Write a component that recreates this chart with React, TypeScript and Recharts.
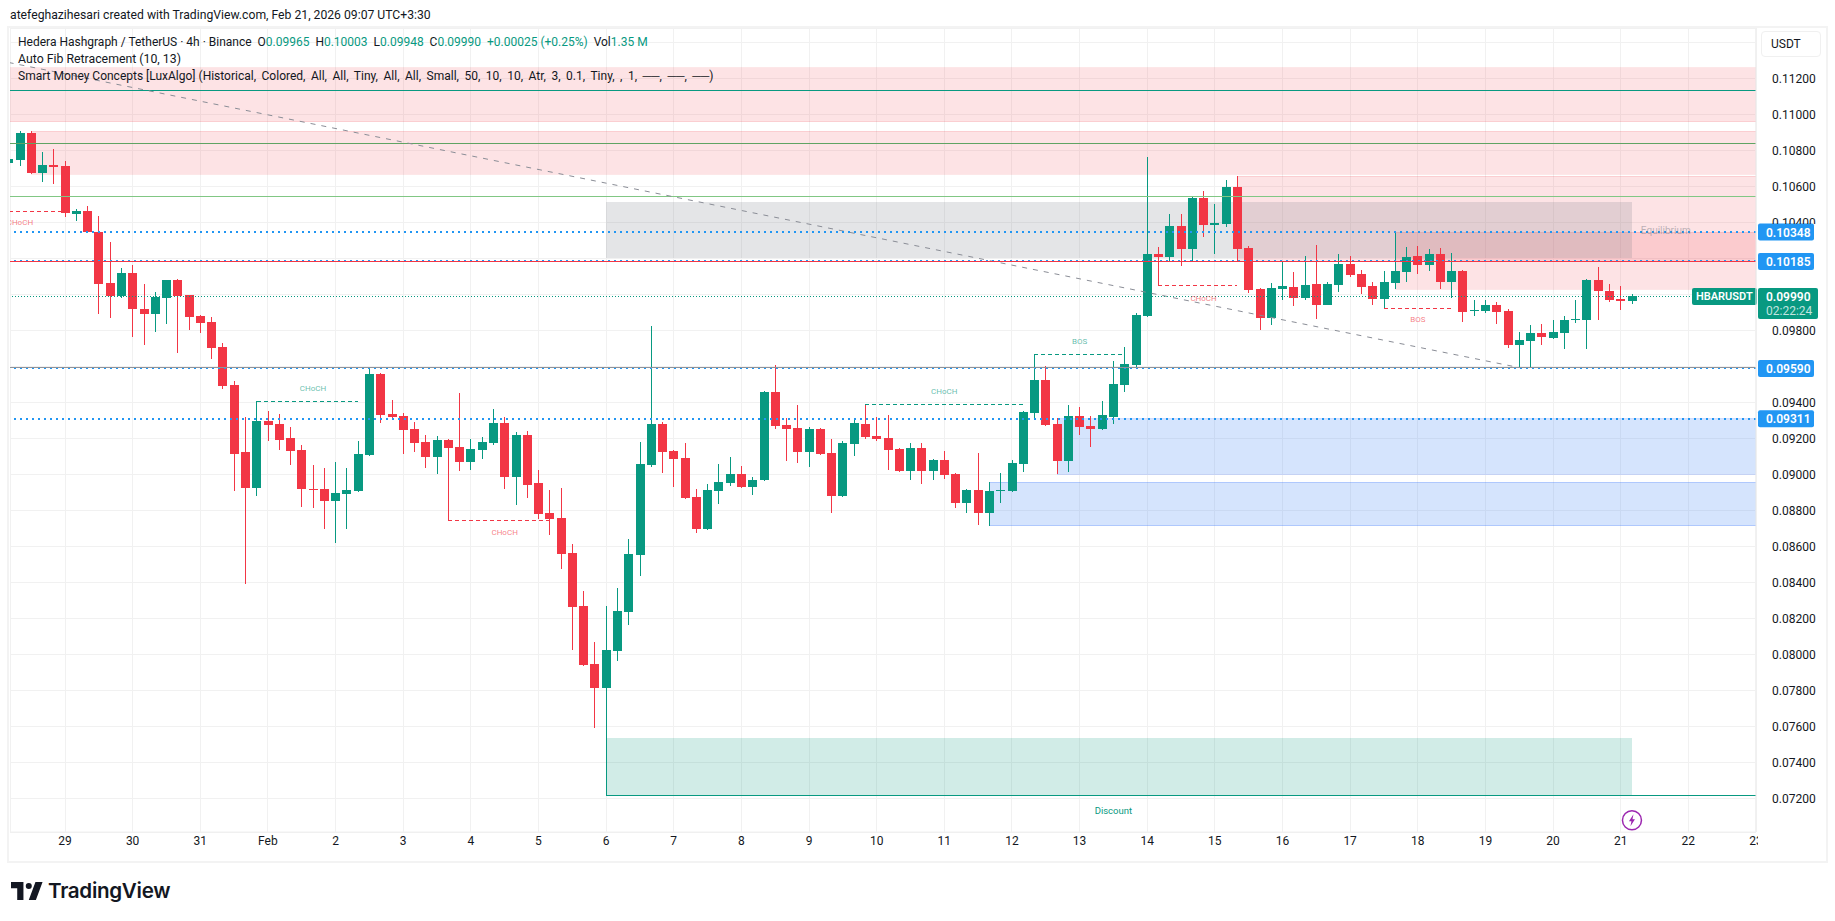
import React from "react";
import {
  ComposedChart,
  Bar,
  XAxis,
  YAxis,
  CartesianGrid,
  ReferenceArea,
  ReferenceDot,
  ReferenceLine,
} from "recharts";

const UP = "#089981";
const DOWN = "#f23645";
const BLUE = "#2196f3";
const FONT = "Roboto, Arial, sans-serif";

// 4h candles, left to right, the first one is cut by the left edge of the pane
const opens = [
  0.10731, 0.10748, 0.10898, 0.10676, 0.1072, 0.10715, 0.1045, 0.10465, 0.10348, 0.10065, 0.09993, 0.1012, 0.0992, 0.09893, 0.09981,
  0.10081, 0.09998, 0.09881, 0.09848, 0.09709, 0.09498, 0.09126, 0.08926, 0.09298, 0.09281, 0.09204, 0.09137, 0.0892, 0.0892, 0.08854,
  0.08893, 0.08909, 0.09109, 0.09559, 0.09337, 0.09326, 0.09254, 0.09181, 0.09098, 0.09193, 0.09154, 0.0907, 0.09137, 0.09176, 0.09287,
  0.08987, 0.0922, 0.08954, 0.08787, 0.08759, 0.08565, 0.0827, 0.07948, 0.07815, 0.0802, 0.08237, 0.08554, 0.09054, 0.09281, 0.09131,
  0.09093, 0.08876, 0.08698, 0.08909, 0.08954, 0.09004, 0.08931, 0.0897, 0.09459, 0.09276, 0.09259, 0.09126, 0.09254, 0.0912, 0.08881,
  0.0917, 0.09281, 0.09215, 0.09204, 0.09143, 0.0902, 0.09148, 0.0902, 0.09081, 0.09004, 0.08843, 0.08915, 0.08787, 0.08909, 0.08909,
  0.09059, 0.09343, 0.09526, 0.09281, 0.09076, 0.09326, 0.0927, 0.09254, 0.0932, 0.09498, 0.09609, 0.09881, 0.10226, 0.10209, 0.10381,
  0.10254, 0.10537, 0.10387, 0.10393, 0.10598, 0.10259, 0.10031, 0.0987, 0.10031, 0.10043, 0.09981, 0.10059, 0.09943, 0.10054, 0.1017,
  0.10115, 0.10048, 0.09976, 0.10065, 0.10126, 0.10215, 0.10165, 0.10226, 0.1007, 0.10131, 0.09909, 0.09909, 0.09943, 0.09909, 0.0972,
  0.09743, 0.09787, 0.09759, 0.09787, 0.09859, 0.09859, 0.10081, 0.1002, 0.09976, 0.09965,
];
const highs = [
  0.10759, 0.10909, 0.10909, 0.10793, 0.10809, 0.10743, 0.10476, 0.10493, 0.10437, 0.10293, 0.10148, 0.10165, 0.10059, 0.10015, 0.10081,
  0.10087, 0.1, 0.09885, 0.09876, 0.09731, 0.0952, 0.0932, 0.09408, 0.09354, 0.09337, 0.09265, 0.09165, 0.09054, 0.09037, 0.0907,
  0.09037, 0.09187, 0.09593, 0.09565, 0.09415, 0.09343, 0.09293, 0.0922, 0.09215, 0.09198, 0.09454, 0.09198, 0.09209, 0.09365, 0.0932,
  0.09237, 0.09243, 0.09026, 0.08915, 0.08926, 0.08615, 0.08354, 0.0807, 0.0827, 0.0837, 0.08643, 0.09181, 0.09826, 0.09293, 0.09137,
  0.09176, 0.0892, 0.08948, 0.09059, 0.09098, 0.09048, 0.08987, 0.09465, 0.09609, 0.09315, 0.09387, 0.09265, 0.09259, 0.09198, 0.09187,
  0.09315, 0.09393, 0.0932, 0.09331, 0.09148, 0.09176, 0.09176, 0.09087, 0.09131, 0.09009, 0.0892, 0.0912, 0.08959, 0.09009, 0.09081,
  0.09354, 0.09669, 0.09604, 0.09315, 0.09387, 0.09376, 0.09326, 0.09409, 0.09631, 0.09709, 0.09898, 0.10765, 0.10265, 0.10448, 0.10448,
  0.10543, 0.10576, 0.10504, 0.10637, 0.10659, 0.1027, 0.10037, 0.10065, 0.10187, 0.10126, 0.10215, 0.10276, 0.1007, 0.10226, 0.10215,
  0.10137, 0.1007, 0.10131, 0.10354, 0.10265, 0.1027, 0.10254, 0.10259, 0.10231, 0.10137, 0.0997, 0.0997, 0.09959, 0.0992, 0.09793,
  0.09831, 0.09837, 0.09859, 0.09881, 0.0997, 0.10085, 0.10154, 0.10059, 0.10048, 0.10003,
];
const lows = [
  0.10726, 0.10716, 0.1067, 0.10626, 0.10615, 0.10431, 0.10409, 0.10345, 0.09893, 0.0987, 0.09981, 0.09766, 0.0972, 0.09793, 0.09837,
  0.09678, 0.09804, 0.09787, 0.09643, 0.09476, 0.08909, 0.08393, 0.08881, 0.09187, 0.09137, 0.09054, 0.0882, 0.08815, 0.08698, 0.0862,
  0.08698, 0.08905, 0.09105, 0.09287, 0.09304, 0.09115, 0.09126, 0.09037, 0.09004, 0.08746, 0.0902, 0.09026, 0.09087, 0.09165, 0.0892,
  0.08831, 0.0887, 0.08754, 0.08665, 0.08476, 0.08026, 0.07937, 0.07593, 0.07219, 0.07965, 0.08165, 0.08437, 0.09043, 0.09009, 0.08931,
  0.08865, 0.08676, 0.08693, 0.08837, 0.08937, 0.08928, 0.08887, 0.08965, 0.09254, 0.09076, 0.09065, 0.09043, 0.09112, 0.08787, 0.08878,
  0.09104, 0.09198, 0.09187, 0.09026, 0.09015, 0.0897, 0.08948, 0.0897, 0.08976, 0.08815, 0.08787, 0.0872, 0.08716, 0.08843, 0.08905,
  0.09015, 0.09315, 0.0927, 0.09004, 0.09015, 0.0922, 0.09154, 0.09248, 0.09281, 0.09459, 0.09598, 0.09876, 0.10052, 0.10187, 0.10159,
  0.10187, 0.1032, 0.10226, 0.10376, 0.10187, 0.10009, 0.09804, 0.09831, 0.0997, 0.09937, 0.0997, 0.09865, 0.0994, 0.10015, 0.10098,
  0.10004, 0.09943, 0.09924, 0.10031, 0.1007, 0.10115, 0.10131, 0.10031, 0.09981, 0.09848, 0.09881, 0.09898, 0.09837, 0.09704, 0.09598,
  0.09598, 0.0972, 0.09754, 0.09698, 0.09843, 0.09698, 0.09859, 0.09959, 0.09915, 0.09948,
];
const closes = [
  0.10754, 0.10898, 0.10676, 0.1072, 0.10711, 0.10455, 0.10465, 0.10348, 0.10061, 0.09993, 0.1012, 0.0992, 0.09893, 0.09987, 0.10081,
  0.09993, 0.09876, 0.09843, 0.09704, 0.09493, 0.09115, 0.08926, 0.09298, 0.09276, 0.09193, 0.09131, 0.0892, 0.08915, 0.08854, 0.08898,
  0.08915, 0.09115, 0.09559, 0.09331, 0.0932, 0.09248, 0.09176, 0.09098, 0.09193, 0.09148, 0.0907, 0.09143, 0.09181, 0.09287, 0.08987,
  0.0922, 0.08943, 0.08781, 0.08754, 0.08559, 0.08265, 0.07943, 0.07815, 0.08026, 0.08243, 0.08559, 0.09059, 0.09281, 0.09126, 0.09087,
  0.0887, 0.08698, 0.08915, 0.08959, 0.09004, 0.08931, 0.0897, 0.09459, 0.0927, 0.09254, 0.09126, 0.09254, 0.09115, 0.08881, 0.09176,
  0.09287, 0.09209, 0.09198, 0.09137, 0.0902, 0.09148, 0.0902, 0.09081, 0.08998, 0.08843, 0.08915, 0.08787, 0.08909, 0.08915, 0.09065,
  0.09348, 0.09526, 0.09276, 0.09076, 0.09326, 0.09265, 0.09254, 0.09331, 0.09504, 0.09615, 0.09887, 0.10226, 0.10209, 0.10381, 0.10254,
  0.10537, 0.10387, 0.10398, 0.10598, 0.10254, 0.10026, 0.0987, 0.10037, 0.10048, 0.09981, 0.10054, 0.09943, 0.10059, 0.1017, 0.10109,
  0.10043, 0.09976, 0.1007, 0.10131, 0.10209, 0.10165, 0.10226, 0.1007, 0.10131, 0.09904, 0.09915, 0.09943, 0.09904, 0.0972, 0.09748,
  0.09787, 0.09765, 0.09793, 0.09859, 0.09865, 0.10081, 0.1002, 0.0997, 0.09965, 0.0999,
];

const FIRST_SLOT = -5;
const EMPTY_SLOTS = 11; // room to the right of the last candle

const dayTicks = [0, 6, 12, 18, 24, 30, 36, 42, 48, 54, 60, 66, 72, 78, 84, 90, 96, 102, 108, 114, 120, 126, 132, 138, 144, 150];
const dayLabels = ["29", "30", "31", "Feb", "2", "3", "4", "5", "6", "7", "8", "9", "10", "11", "12", "13", "14", "15", "16", "17", "18", "19", "20", "21", "22", "23"];
const priceTicks = [0.072, 0.074, 0.076, 0.078, 0.08, 0.082, 0.084, 0.086, 0.088, 0.09, 0.092, 0.094, 0.096, 0.098, 0.1, 0.102, 0.104, 0.106, 0.108, 0.11, 0.112, 0.114];
// these sit behind the price tags and the USDT button, only their grid line shows
const hiddenPriceLabels = [0.096, 0.1, 0.102, 0.114];

// pink supply zones: top, bottom, start slot (null = from the pane edge)
const supplyTops = [0.11262, 0.10909, 0.10659, 0.10348];
const supplyBottoms = [0.10962, 0.10668, 0.1019, 0.10029];
const supplyStarts = [null, -3, 104, 118];
// blue demand zones
const demandTops = [0.09311, 0.08958];
const demandBottoms = [0.09002, 0.08716];
const demandStarts = [88, 82];

// structure breaks
const breakStarts = [-5, 17, 34, 71, 86, 97, 117];
const breakEnds = [0, 26, 43, 85, 94, 104, 123];
const breakPrices = [0.10463, 0.09408, 0.08747, 0.09391, 0.09669, 0.10052, 0.09924];
const breakUp = [false, true, false, true, true, false, false];
const breakNames = ["CHoCH", "CHoCH", "CHoCH", "CHoCH", "BOS", "CHoCH", "BOS"];
const breakLabelSlots = [-4, 22, 39, 78, 90, 101, 120];
const breakLabelPrices = [0.10402, 0.0948, 0.0868, 0.09463, 0.09741, 0.09983, 0.09863];

const fibLines = [0.11135, 0.10841, 0.10547];
const fibColors = ["#089981", "#5fa463", "#81c784"];
const levelPrices = [0.10348, 0.10185, 0.0959, 0.09311];
const lastPrice = 0.0999;

const rows = [...opens, ...Array(EMPTY_SLOTS).fill(null)].map((open, i) => ({
  slot: i + FIRST_SLOT,
  range: open === null ? null : [lows[i], highs[i]],
  open,
  high: highs[i],
  low: lows[i],
  close: closes[i],
}));

const CHART_W = 1835;
const CHART_H = 921;
const PANE_LEFT = 10;
const PANE_RIGHT = 1756;
const PANE_TOP = 28;
const PANE_BOTTOM = 832;
const SLOT_W = 11.27;
const PANE_CLIP = "url(#pane)";

const Candle = (props: any) => {
  const { x, y, width, height, payload } = props;
  if (payload.open === null || !height) return null;
  const perPrice = height / (payload.high - payload.low);
  const color = payload.close >= payload.open ? UP : DOWN;
  const top = y + (payload.high - Math.max(payload.open, payload.close)) * perPrice;
  const bodyH = Math.max(1, Math.abs(payload.open - payload.close) * perPrice);
  const mid = Math.floor(x + width / 2);
  return (
    <g clipPath={PANE_CLIP} shapeRendering="crispEdges">
      <rect x={mid} y={y} width={1} height={height} fill={color} />
      <rect x={mid - 4} y={top} width={9} height={bodyH} fill={color} />
    </g>
  );
};

// reference areas snap to the band edges, the zones here start on the candle centre
const Zone = (props: any) => {
  const { x, y, width, height, fill, stroke, trimLeft, trimRight } = props;
  const left = x + (trimLeft ? SLOT_W / 2 : 0);
  const w = width - (trimLeft ? SLOT_W / 2 : 0) - (trimRight ? SLOT_W / 2 : 0);
  return (
    <g clipPath={PANE_CLIP} shapeRendering="crispEdges">
      <rect x={left} y={y} width={w} height={height} fill={fill} />
      {stroke && <rect x={left} y={y} width={w} height={height} fill="none" stroke={stroke} strokeWidth={1} />}
    </g>
  );
};

const DayTick = (props: any) => {
  const { x, y, payload } = props;
  const label = dayLabels[dayTicks.indexOf(payload.value)];
  return (
    <text x={x} y={y + 5} textAnchor="middle" fontSize={12} fontFamily={FONT} fill="#131722" clipPath="url(#dayClip)">
      {label}
    </text>
  );
};

const PriceTick = (props: any) => {
  const { x, y, payload } = props;
  if (hiddenPriceLabels.includes(payload.value)) return null;
  // 0.10400 is half covered by the tag just below it
  const covered = payload.value === 0.104;
  return (
    <text
      x={x}
      y={y + 4}
      fontSize={12}
      fontFamily={FONT}
      fill="#131722"
      clipPath={covered ? "url(#tagClip)" : undefined}
    >
      {payload.value.toFixed(5)}
    </text>
  );
};

const AxisTag = ({ viewBox, price, fill, w = 56, h = 17 }: any) => {
  const cy = viewBox.y;
  return (
    <g>
      <rect x={PANE_RIGHT + 2} y={cy - h / 2} width={w} height={h} fill={fill} rx={2} />
      <text x={PANE_RIGHT + 10} y={cy + 4.5} fontSize={12} fontWeight={600} fontFamily={FONT} fill="#fff">
        {price.toFixed(5)}
      </text>
    </g>
  );
};

const LastTag = ({ viewBox }: any) => {
  const cy = viewBox.y;
  return (
    <g>
      <rect x={PANE_RIGHT - 64} y={cy - 8.5} width={65} height={17} fill={UP} rx={2} />
      <text x={PANE_RIGHT - 60} y={cy + 4} fontSize={11} fontWeight={600} fontFamily={FONT} fill="#fff">
        HBARUSDT
      </text>
      <rect x={PANE_RIGHT + 2} y={cy - 8.5} width={60} height={31} fill={UP} rx={2} />
      <text x={PANE_RIGHT + 10} y={cy + 4.5} fontSize={12} fontWeight={600} fontFamily={FONT} fill="#fff">
        {lastPrice.toFixed(5)}
      </text>
      <text x={PANE_RIGHT + 10} y={cy + 19} fontSize={12} fontFamily={FONT} fill="#fff" fillOpacity={0.75}>
        02:22:24
      </text>
    </g>
  );
};

const Note = ({ cx, cy, text, color, size = 8, opacity = 1 }: any) => (
  <text x={cx} y={cy + size * 0.35} textAnchor="middle" fontSize={size} fontFamily={FONT} fill={color} fillOpacity={opacity} clipPath={PANE_CLIP}>
    {text}
  </text>
);

const Bolt = ({ cx, cy }: any) => (
  <g>
    <circle cx={cx} cy={cy} r={9.5} fill="#fff" stroke="#9c27b0" strokeWidth={1.5} />
    <path d={`M${cx + 1.5} ${cy - 6}L${cx - 3} ${cy + 1}H${cx - 0.5}L${cx - 1.5} ${cy + 6}L${cx + 3} ${cy - 1}H${cx + 0.5}Z`} fill="#9c27b0" />
  </g>
);

const label = (left: number, top: number, extra: any = {}): React.CSSProperties => ({
  position: "absolute",
  left,
  top,
  fontFamily: FONT,
  fontSize: 12,
  lineHeight: "16px",
  color: "#131722",
  whiteSpace: "nowrap",
  ...extra,
});

const Val = ({ children }: any) => <span style={{ color: UP }}>{children}</span>;

export default function App() {
  return (
    <div style={{ position: "absolute", left: 0, top: 0, width: CHART_W, height: CHART_H, background: "#fff", overflow: "hidden" }}>
      <svg width={0} height={0} style={{ position: "absolute" }}>
        <defs>
          <clipPath id="pane">
            <rect x={PANE_LEFT} y={PANE_TOP} width={PANE_RIGHT - PANE_LEFT} height={PANE_BOTTOM - PANE_TOP} />
          </clipPath>
          <clipPath id="dayClip">
            <rect x={0} y={PANE_BOTTOM} width={PANE_RIGHT + 2} height={30} />
          </clipPath>
          <clipPath id="tagClip">
            <rect x={PANE_RIGHT} y={200} width={70} height={24} />
          </clipPath>
        </defs>
      </svg>
      <div style={{ position: "absolute", left: 7, top: 26, width: 1817, height: 833, border: "2px solid #f3f3f3" }} />
      <div style={{ position: "absolute", left: 0, top: 0 }}>
        <ComposedChart
          width={CHART_W}
          height={CHART_H}
          data={rows}
          margin={{ top: PANE_TOP, right: 0, left: PANE_LEFT, bottom: 61 }}
          barCategoryGap="20%"
        >
          <CartesianGrid stroke="#f1f1f1" shapeRendering="crispEdges" />
          <XAxis
            dataKey="slot"
            type="category"
            ticks={dayTicks}
            tick={<DayTick />}
            interval={0}
            height={28}
            tickLine={false}
            axisLine={{ stroke: "#f0f0f0" }}
            padding={{ left: -7, right: -5.6 }}
            allowDataOverflow
          />
          <YAxis
            orientation="right"
            width={79}
            domain={[0.07015, 0.114815]}
            ticks={priceTicks}
            interval={0}
            allowDataOverflow
            tick={<PriceTick />}
            tickLine={false}
            tickMargin={10}
            axisLine={{ stroke: "#f0f0f0" }}
          />

          {supplyTops.map((top, i) => (
            <ReferenceArea
              key={`supply-${i}`}
              x1={supplyStarts[i] ?? undefined}
              y1={supplyBottoms[i]}
              y2={top}
              ifOverflow="visible"
              shape={(p: any) => <Zone {...p} fill="rgba(242,54,69,0.14)" stroke="rgba(242,54,69,0.12)" trimLeft={supplyStarts[i] !== null} />}
            />
          ))}
          <ReferenceArea
            x1={48}
            x2={139}
            y1={0.10202}
            y2={0.10515}
            ifOverflow="visible"
            shape={(p: any) => <Zone {...p} fill="rgba(120,123,134,0.2)" trimLeft trimRight />}
          />
          <ReferenceArea
            x1={48}
            x2={139}
            y1={0.07219}
            y2={0.07537}
            ifOverflow="visible"
            shape={(p: any) => <Zone {...p} fill="rgba(8,153,129,0.19)" trimLeft trimRight />}
          />
          {demandTops.map((top, i) => (
            <ReferenceArea
              key={`demand-${i}`}
              x1={demandStarts[i]}
              y1={demandBottoms[i]}
              y2={top}
              ifOverflow="visible"
              shape={(p: any) => <Zone {...p} fill="rgba(66,133,244,0.22)" stroke="rgba(41,98,255,0.22)" trimLeft />}
            />
          ))}

          {fibLines.map((price, i) => (
            <ReferenceLine key={`fib-${i}`} y={price} stroke={fibColors[i]} strokeWidth={1} clipPath={PANE_CLIP} shapeRendering="crispEdges" />
          ))}
          <ReferenceLine
            segment={[{ x: 48, y: 0.07219 }, { x: 150, y: 0.07219 }]}
            stroke={UP}
            strokeWidth={1}
            shapeRendering="crispEdges"
            ifOverflow="visible"
          />
          <ReferenceLine
            segment={[{ x: -5, y: 0.1129 }, { x: 129, y: 0.09595 }]}
            stroke="#8a8d96"
            strokeWidth={1}
            strokeDasharray="5 6"
            clipPath={PANE_CLIP}
            ifOverflow="visible"
          />
          {breakStarts.map((start, i) => (
            <ReferenceLine
              key={`break-${i}`}
              segment={[{ x: start, y: breakPrices[i] }, { x: breakEnds[i], y: breakPrices[i] }]}
              stroke={breakUp[i] ? UP : DOWN}
              strokeWidth={1}
              strokeDasharray="4 3"
              clipPath={PANE_CLIP}
              shapeRendering="crispEdges"
              ifOverflow="visible"
            />
          ))}
          {breakNames.map((name, i) => (
            <ReferenceDot
              key={`break-label-${i}`}
              x={breakLabelSlots[i]}
              y={breakLabelPrices[i]}
              r={0}
              shape={(p: any) => <Note {...p} text={name} color={breakUp[i] ? UP : DOWN} opacity={0.65} />}
            />
          ))}
          <ReferenceDot x={142} y={0.10355} r={0} shape={(p: any) => <Note {...p} text="Equilibrium" color="#787b86" size={10} opacity={0.5} />} />
          <ReferenceDot x={93} y={0.07133} r={0} shape={(p: any) => <Note {...p} text="Discount" color={UP} size={9.5} />} />
          <ReferenceDot x={139} y={0.0708} r={0} shape={(p: any) => <Bolt {...p} />} />

          <ReferenceLine y={lastPrice} stroke={UP} strokeWidth={1} strokeDasharray="1 2" clipPath={PANE_CLIP} shapeRendering="crispEdges" label={<LastTag />} />
          {levelPrices.map((price) => (
            <ReferenceLine
              key={price}
              y={price}
              stroke={BLUE}
              strokeWidth={2}
              strokeDasharray="2 4"
              clipPath={PANE_CLIP}
              shapeRendering="crispEdges"
              label={<AxisTag price={price} fill={BLUE} />}
            />
          ))}
          {/* solid levels lie just against the dotted ones */}
          <ReferenceLine y={0.10184} stroke={DOWN} strokeWidth={1} clipPath={PANE_CLIP} shapeRendering="crispEdges" />
          <ReferenceLine y={0.09597} stroke="#8f9399" strokeWidth={1} clipPath={PANE_CLIP} shapeRendering="crispEdges" />

          <Bar dataKey="range" shape={<Candle />} isAnimationActive={false} />
        </ComposedChart>
      </div>

      <div style={label(10, 7, { fontSize: 12.2 })}>atefeghazihesari created with TradingView.com, Feb 21, 2026 09:07 UTC+3:30</div>
      <div style={label(18, 34)}>
        Hedera Hashgraph / TetherUS · 4h · Binance&nbsp;&nbsp;O<Val>0.09965</Val>&nbsp;&nbsp;H<Val>0.10003</Val>&nbsp;&nbsp;L<Val>0.09948</Val>&nbsp;&nbsp;C<Val>0.09990</Val>&nbsp;&nbsp;<Val>+0.00025 (+0.25%)</Val>&nbsp;&nbsp;Vol<Val>1.35 M</Val>
      </div>
      <div style={label(18, 51, { fontSize: 12.3 })}>Auto Fib Retracement (10, 13)</div>
      <div style={label(18, 68)}>
        Smart Money Concepts [LuxAlgo] <span style={{ wordSpacing: 2.55 }}>(Historical, Colored, All, All, Tiny, All, All, Small, 50, 10, 10, Atr, 3, 0.1, Tiny, , 1, ──, ──, ──)</span>
      </div>

      <div style={label(1761, 31, { width: 60, height: 26, boxSizing: "border-box", border: "1px solid #f0f0f0", borderRadius: 4, background: "#fff", lineHeight: "24px", paddingLeft: 9 })}>USDT</div>

      <svg style={{ position: "absolute", left: 11, top: 882 }} width={32} height={18} viewBox="0 0 36 20">
        <path d="M14 0H0v7h7v13h7V0ZM28 20h-8l7.5-20h8L28 20ZM20 1a3.4 3.4 0 1 1 0 6.8 3.4 3.4 0 0 1 0-6.8Z" fill="#131722" />
      </svg>
      <div style={label(48, 877, { fontFamily: "Inter, Arial, sans-serif", fontWeight: 600, fontSize: 20.6, lineHeight: "28px", letterSpacing: -0.3 })}>TradingView</div>
    </div>
  );
}
